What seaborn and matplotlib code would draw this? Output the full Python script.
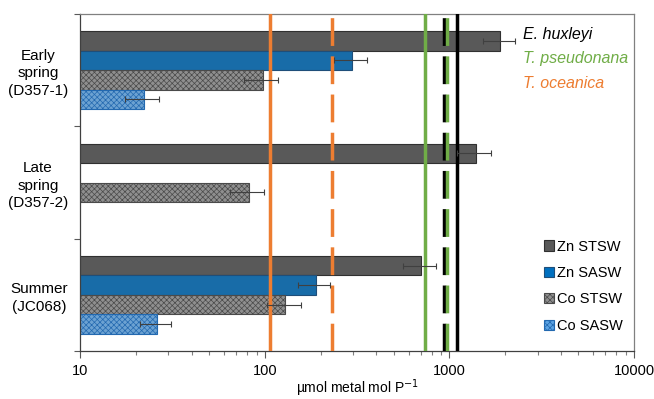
import numpy as np
import pandas as pd
import matplotlib
matplotlib.use("Agg")
import matplotlib.pyplot as plt
import seaborn as sns
from matplotlib.patches import Patch
from matplotlib.ticker import NullFormatter, FixedLocator

# Chart data
seasons = ["Early\nspring\n(D357-1)", "Late\nspring\n(D357-2)", "Summer\n(JC068)"]
series = ["Zn STSW", "Zn SASW", "Co STSW", "Co SASW"]
zn_stsw = [1890, 1390, 700]
zn_sasw = [297, np.nan, 188]
co_stsw = [97, 82, 129]
co_sasw = [22, np.nan, 26]
zn_stsw_err = [370, 290, 140]
zn_sasw_err = [60, np.nan, 37]
co_stsw_err = [20, 17, 27]
co_sasw_err = [4.5, np.nan, 5]

# Reference lines for the three phytoplankton cultures
species = ["E. huxleyi", "T. pseudonana", "T. oceanica"]
species_colors = ["#000000", "#70AD47", "#ED7D31"]
solid_lines = [1100, 734, 106]
dashed_lines = [935, 968, 231]

bar_colors = ["#595959", "#0070C0", "#8f8f8f", "#5ba3e3"]
edge_colors = ["#303030", "#1f4e79", "#4a4a4a", "#2369b0"]
hatches = [None, None, "xxxxxx", "xxxxxx"]

rows = []
for vals, errs, name in zip([zn_stsw, zn_sasw, co_stsw, co_sasw],
                            [zn_stsw_err, zn_sasw_err, co_stsw_err, co_sasw_err], series):
    for s, v, e in zip(seasons, vals, errs):
        rows.append({"season": s, "series": name, "value": v, "err": e})
df = pd.DataFrame(rows).dropna()

plt.rcParams["font.family"] = ["Liberation Sans", "DejaVu Sans"]
plt.rcParams["hatch.linewidth"] = 0.5

fig = plt.figure(figsize=(6.54, 3.99), dpi=100)
ax = fig.add_axes([0.123, 0.1203, 0.8464, 0.8446])

sns.barplot(data=df, y="season", x="value", hue="series", order=seasons,
            hue_order=series, palette=bar_colors, orient="h", width=0.69,
            errorbar=None, ax=ax, zorder=2, legend=False)

# style bars + error bars; identify each bar by where seaborn put it
bar_h = 0.69 / len(series)
for p in list(ax.patches):
    if p.get_width() <= 0 or np.isnan(p.get_width()):
        continue
    yc = p.get_y() + p.get_height() / 2
    si = int(round(yc))
    hi = int(round((yc - si) / bar_h + (len(series) - 1) / 2))
    p.set_linewidth(0.8)
    p.set_edgecolor(edge_colors[hi])
    if hatches[hi]:
        p.set_hatch(hatches[hi])
    err = df[(df["season"] == seasons[si]) & (df["series"] == series[hi])]["err"].iloc[0]
    ax.errorbar(p.get_width(), yc, xerr=err, fmt="none", ecolor="#404040",
                elinewidth=0.8, capsize=2.5, capthick=0.8, zorder=4)

ax.set_xscale("log")

for x, c in zip(solid_lines, species_colors):
    ax.axvline(x, color=c, lw=2.5, zorder=3)
for x, c in zip(dashed_lines, species_colors):
    ax.axvline(x, color=c, lw=2.5, dashes=(8, 3), zorder=3)

ax.set_xlim(10, 10000)
ax.set_ylim(2.5, -0.5)

for k, (name, c) in enumerate(zip(species, species_colors)):
    ax.text(0.800, 0.94 - k * 0.073, name, color=c, style="italic", fontsize=11.5,
            transform=ax.transAxes, va="center", ha="left")

handles = [Patch(facecolor=fc, edgecolor=ec, hatch=h, linewidth=0.8)
           for fc, ec, h in zip(bar_colors, edge_colors, hatches)]
ax.legend(handles, series, loc="center left", bbox_to_anchor=(0.826, 0.192),
          frameon=False, fontsize=10.5, handlelength=0.7, handleheight=0.7,
          handletextpad=0.25, labelspacing=0.85, borderaxespad=0)

# axes styling
ax.set_xlabel("µmol metal mol P$^{-1}$", fontsize=10, labelpad=0)
ax.set_ylabel("")
ax.yaxis.set_major_locator(FixedLocator([-0.5, 0.5, 1.5, 2.5]))
ax.yaxis.set_major_formatter(NullFormatter())
ax.yaxis.set_minor_locator(FixedLocator([0, 1, 2]))
ax.set_yticklabels(seasons, minor=True)
ax.tick_params(axis="y", which="major", length=4, width=0.8, color="#595959")
ax.tick_params(axis="y", which="minor", length=0, pad=9, labelsize=11)
for lab in ax.get_yticklabels(minor=True):
    lab.set_multialignment("center")
    lab.set_linespacing(1.3)
ax.set_xticks([10, 100, 1000, 10000])
ax.set_xticklabels(["10", "100", "1000", "10000"])
ax.tick_params(axis="x", which="major", length=5, width=0.8, color="#595959",
               labelsize=10.5, pad=4)
ax.tick_params(axis="x", which="minor", length=3, width=0.8, color="#808080")

for side in ["left", "bottom"]:
    ax.spines[side].set_color("#404040")
    ax.spines[side].set_linewidth(0.9)
for side in ["top", "right"]:
    ax.spines[side].set_color("#808080")
    ax.spines[side].set_linewidth(0.9)

fig.savefig("out.png", dpi=100)
